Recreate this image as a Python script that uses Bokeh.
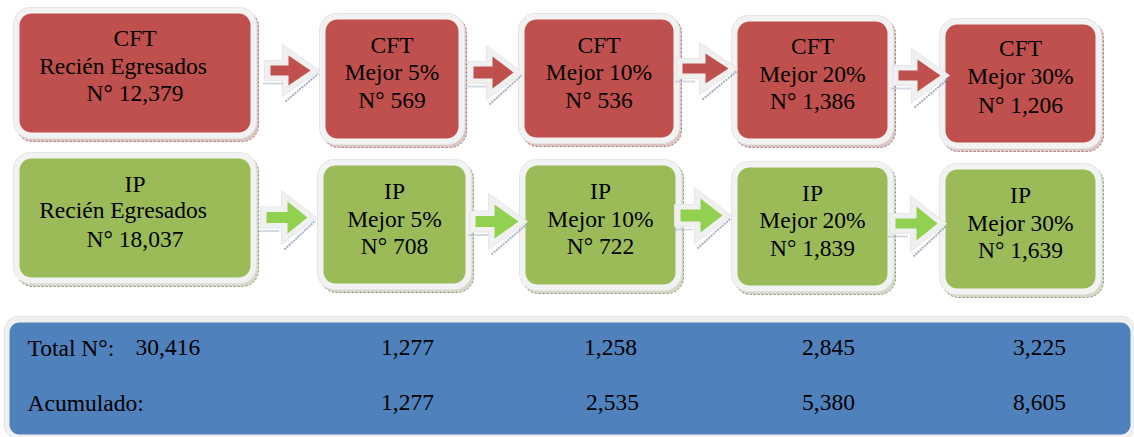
import numpy as np
from bokeh.plotting import figure
from bokeh.models import Range1d
from bokeh.core.properties import value
from bokeh.embed import file_html
from bokeh.resources import INLINE

# ---------------- data ----------------
groups = ["CFT", "IP"]
stages = ["Recién Egresados", "Mejor 5%", "Mejor 10%", "Mejor 20%", "Mejor 30%"]
cft_n = [12379, 569, 536, 1386, 1206]
ip_n = [18037, 708, 722, 1839, 1639]
total_label = "Total N°:"
total_n = [30416, 1277, 1258, 2845, 3225]
acum_label = "Acumulado:"
acumulado = [1277, 2535, 5380, 8605]

# ---------------- layout (reference pixel coords) ----------------
red_boxes = [(19, 13, 250, 132), (325, 19, 458, 138), (524, 19, 673, 137),
             (737, 21, 887, 138), (945, 24, 1095, 142)]
green_boxes = [(19, 158, 250, 277), (323, 165, 465, 283), (525, 165, 675, 284),
               (737, 167, 887, 285), (945, 169, 1095, 288)]
red_base = [(45, 73, 100), (52, 79, 107), (52, 79, 107), (53, 81, 108), (55, 83, 112)]
green_base = [(191, 217, 246), (198, 226, 253), (198, 226, 253), (200, 227, 255), (202, 230, 257)]
red_arrows = [(270, 288, 310, 70, 5, 15), (473, 492, 513, 72, 6, 16),
              (682, 705, 728, 68, 5, 15), (898, 917, 940, 75, 5, 16)]
green_arrows = [(266, 287, 307, 217, 5.5, 16), (475, 494, 518, 221, 5.5, 17),
                (680, 700, 722, 215, 6, 17), (895, 916, 937, 223, 5, 17)]
blue_box = (9, 322, 1130, 434)
TEXT_DY = -8  # renderer baseline correction

RED, GREEN, BLUE = "#C0504D", "#9BBB59", "#4F81BD"
RED_ARROW, GREEN_ARROW = "#C0504D", "#92D050"
FONT = value("Liberation Serif")
FS = "23.5px"

W, H = 1134, 437


def rrect(x0, y0, x1, y1, r, n=10):
    xs, ys = [], []
    for cx, cy, a0, a1 in [(x1 - r, y0 + r, -90, 0), (x1 - r, y1 - r, 0, 90),
                           (x0 + r, y1 - r, 90, 180), (x0 + r, y0 + r, 180, 270)]:
        a = np.radians(np.linspace(a0, a1, n))
        xs += list(cx + r * np.cos(a))
        ys += list(cy + r * np.sin(a))
    return xs, ys


def arrow(xs, xh, xt, yc, t, h):
    return ([xs, xh, xh, xt, xh, xh, xs],
            [yc - t, yc - t, yc - h, yc, yc + h, yc + t, yc + t])


p = figure(width=W, height=H, x_range=Range1d(0, W), y_range=Range1d(H, 0),
           output_backend="svg", toolbar_location=None, min_border=0,
           x_axis_type=None, y_axis_type=None)
p.grid.visible = False
p.outline_line_color = None
p.background_fill_color = "white"
p.border_fill_color = "white"


def draw_boxes(boxes, color, shadow_fill, shadow_line):
    sh = [rrect(x0 - 3, y0 - 3, x1 + 8, y1 + 9, 16) for (x0, y0, x1, y1) in boxes]
    p.patches([s[0] for s in sh], [s[1] for s in sh], fill_color=shadow_fill,
              line_color=shadow_line, line_dash="2 2", line_width=1)
    ring = [rrect(x0 - 6, y0 - 6, x1 + 6, y1 + 6, 17) for (x0, y0, x1, y1) in boxes]
    p.patches([s[0] for s in ring], [s[1] for s in ring], fill_color="#F2F2F2",
              line_color="#E4E4E4", line_width=1)
    inner = [rrect(x0, y0, x1, y1, 12) for (x0, y0, x1, y1) in boxes]
    p.patches([s[0] for s in inner], [s[1] for s in inner], fill_color=color,
              line_color=None)


draw_boxes(red_boxes, RED, "#dcc6c6", "#a07070")
draw_boxes(green_boxes, GREEN, "#d3d9c6", "#7f8f6f")

bx0, by0, bx1, by1 = blue_box
rx, ry = rrect(bx0 - 5, by0 - 6, bx1 + 5, by1 + 5, 14)
p.patch(rx, ry, fill_color="#F0F0F0", line_color="#E2E2E2")
bxs, bys = rrect(bx0, by0, bx1, by1, 10)
p.patch(bxs, bys, fill_color=BLUE, line_color=None)


def draw_arrows(arrows, color):
    outl = [arrow(xs - 6, xh - 6, xt + 9, yc, t + 5, h + 11) for (xs, xh, xt, yc, t, h) in arrows]
    p.patches([a[0] for a in outl], [a[1] for a in outl], fill_color="#F0F0F0",
              line_color="#E6E6E6")
    body = [arrow(*a) for a in arrows]
    p.patches([a[0] for a in body], [a[1] for a in body], fill_color=color, line_color=None)
    p.segment(x0=[a[1] - 3 for a in arrows], y0=[a[3] + a[5] + 16 for a in arrows],
              x1=[a[2] + 8 for a in arrows], y1=[a[3] + 3 for a in arrows],
              line_color="#8A98B0", line_width=2, line_dash="2 1", line_alpha=0.8)
    p.segment(x0=[a[0] - 7 for a in arrows], y0=[a[3] + a[4] + 8 for a in arrows],
              x1=[a[0] + 13 for a in arrows], y1=[a[3] + a[4] + 8 for a in arrows],
              line_color="#A8B4C8", line_width=2, line_dash="1 1")


draw_arrows(red_arrows, RED_ARROW)
draw_arrows(green_arrows, GREEN_ARROW)

tx, ty, tt = [], [], []
for g, (boxes, bases, vals) in zip(groups, [(red_boxes, red_base, cft_n),
                                            (green_boxes, green_base, ip_n)]):
    for i, ((x0, y0, x1, y1), b, v, s) in enumerate(zip(boxes, bases, vals, stages)):
        cx = (x0 + x1) / 2
        lines = [g, s, f"N° {v:,}"]
        xs = [cx, cx - 12 if i == 0 else cx, cx]
        for xx, yy, ll in zip(xs, b, lines):
            tx.append(xx); ty.append(yy + TEXT_DY); tt.append(ll)
p.text(x=tx, y=ty, text=tt, text_font=FONT, text_font_size=FS, text_color="black",
       text_align="center", text_baseline="alphabetic")

row_y = [355 + TEXT_DY, 410 + TEXT_DY]
p.text(x=[27, 27], y=row_y, text=[total_label, acum_label], text_font=FONT,
       text_font_size=FS, text_color="black", text_align="left", text_baseline="alphabetic")
p.text(x=[135], y=[row_y[0]], text=[f"{total_n[0]:,}"], text_font=FONT,
       text_font_size=FS, text_color="black", text_align="left", text_baseline="alphabetic")
col_x1 = [407, 610, 828, 1039]
col_x2 = [407, 612, 828, 1039]
p.text(x=col_x1 + col_x2, y=[row_y[0]] * 4 + [row_y[1]] * 4,
       text=[f"{v:,}" for v in total_n[1:]] + [f"{v:,}" for v in acumulado],
       text_font=FONT, text_font_size=FS, text_color="black", text_align="center",
       text_baseline="alphabetic")

open("out.html", "w").write(file_html(p, INLINE))
